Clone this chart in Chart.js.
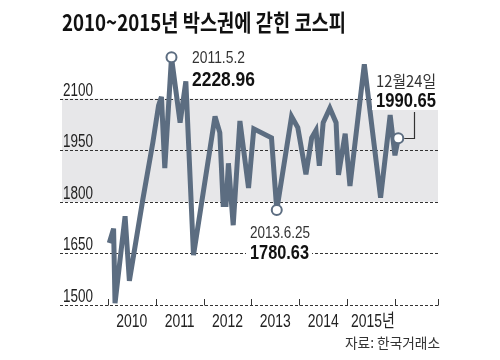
<!DOCTYPE html>
<html>
<head>
<meta charset="utf-8">
<script src="https://cdn.jsdelivr.net/npm/chart.js@4.4.1/dist/chart.umd.min.js"></script>
<style>
    html, body { margin: 0; padding: 0; background: #fff; }
    #wrap { width: 500px; height: 360px; }
</style>
</head>
<body>
<div id="wrap"><canvas id="kospiChart" width="500" height="360"></canvas></div>
<script>
// KOSPI (x = decimal year)
const dates = [2010.03, 2010.12, 2010.15, 2010.36, 2010.45, 2010.73, 2010.94, 2011.06, 2011.12, 2011.19,
    2011.33, 2011.51, 2011.63, 2011.79, 2012.24, 2012.34, 2012.41, 2012.47, 2012.52, 2012.62,
    2012.76, 2012.94, 2013.05, 2013.42, 2013.53, 2013.84, 2013.97, 2014.14, 2014.26, 2014.35,
    2014.42, 2014.50, 2014.64, 2014.77, 2014.82, 2014.96, 2015.06, 2015.36, 2015.70, 2015.90,
    2016.00, 2016.07];
const kospi = [1680, 1722, 1505, 1758, 1570, 1806, 1972, 2080, 2105, 1898,
    2220, 2030, 2150, 1645, 2048, 2001, 1792, 1792, 1912, 1732,
    2035, 1840, 2012, 1986, 1776, 2048, 2016, 1880, 1986, 2008,
    1905, 2030, 2072, 2030, 1878, 1998, 1846, 2200, 1812, 2052,
    1935, 1985];

const yTicks = [1500, 1650, 1800, 1950, 2100];
const boxRange = [1800, 2100];
const yearTicks = [2010, 2011, 2012, 2013, 2014, 2015, 2016];
const yearLabels = ["2010", "2011", "2012", "2013", "2014", "2015년"];

const markIndex = [10, 24, 41];
const markDates = ["2011.5.2", "2013.6.25", "12월24일"];
const markValues = ["2228.96", "1780.63", "1990.65"];

const title = "2010~2015년 박스권에 갇힌 코스피";
const source = "자료: 한국거래소";

const LINE = "#5c6d81";
const NUM_FONT = "'Liberation Sans', Arial, 'Noto Sans CJK KR', sans-serif";
const KR_FONT = "'Noto Sans CJK KR', 'Noto Sans', sans-serif";

// draw text squeezed to a given width (the original uses a condensed face)
function fitText(ctx, s, x, y, font, width, color) {
    ctx.save();
    ctx.font = font;
    ctx.fillStyle = color;
    ctx.textBaseline = "middle";
    ctx.textAlign = "left";
    const sx = width / ctx.measureText(s).width;
    ctx.translate(x, y);
    ctx.scale(sx, 1);
    ctx.fillText(s, 0, 0);
    ctx.restore();
}

function squeezeText(ctx, s, x, y, font, sx, color) {
    ctx.save();
    ctx.font = font;
    ctx.fillStyle = color;
    ctx.textBaseline = "middle";
    ctx.textAlign = "left";
    const w = ctx.measureText(s).width * sx;
    ctx.translate(x - w / 2, y);
    ctx.scale(sx, 1);
    ctx.fillText(s, 0, 0);
    ctx.restore();
}

function dashedLine(ctx, x1, x2, y) {
    ctx.save();
    ctx.strokeStyle = "#333";
    ctx.lineWidth = 1;
    ctx.setLineDash([3, 2]);
    ctx.beginPath();
    ctx.moveTo(x1, Math.round(y) + 0.5);
    ctx.lineTo(x2, Math.round(y) + 0.5);
    ctx.stroke();
    ctx.restore();
}

const backdrop = {
    id: "backdrop",
    beforeDatasetsDraw(chart) {
        const { ctx, chartArea: a, scales: { x, y } } = chart;

        // box range band
        ctx.fillStyle = "#e7e7e9";
        const yTop = y.getPixelForValue(boxRange[1]);
        const yBot = y.getPixelForValue(boxRange[0]);
        ctx.fillRect(a.left + 2, yTop, a.right - a.left - 2, yBot - yTop);

        yTicks.forEach(v => {
            const py = y.getPixelForValue(v);
            dashedLine(ctx, a.left, a.right, py);
            fitText(ctx, String(v), a.left + 3, py - 8, "18px " + NUM_FONT, 30, "#222");
        });

        // year ticks on the bottom axis
        ctx.save();
        ctx.strokeStyle = "#333";
        ctx.lineWidth = 1;
        const ticks = yearTicks.map(t => x.getPixelForValue(t)).concat([a.right - 0.5]);
        ticks.forEach(px => {
            ctx.beginPath();
            ctx.moveTo(Math.round(px) + 0.5, a.bottom + 0.5);
            ctx.lineTo(Math.round(px) + 0.5, a.bottom - 6);
            ctx.stroke();
        });
        ctx.restore();

        ctx.font = "18px " + NUM_FONT;
        const sx = 31 / ctx.measureText("2010").width;
        yearLabels.forEach((s, i) => {
            const px = x.getPixelForValue(yearTicks[i] + 0.5);
            squeezeText(ctx, s, px + (i === 5 ? 2 : 0), a.bottom + 17, "18px " + NUM_FONT, sx, "#222");
        });

        fitText(ctx, title, 62, 22, "bold 23px " + KR_FONT, 284, "#111");
        fitText(ctx, source, 345, 343, "14px " + KR_FONT, 95, "#333");

        // sharp spikes get cut like in the original artwork
        ctx.miterLimit = 4;
    },
    afterDatasetsDraw(chart) {
        const { ctx } = chart;
        const meta = chart.getDatasetMeta(0);

        // peak
        fitText(ctx, markDates[0], 192, 59, "16px " + NUM_FONT, 53, "#333");
        fitText(ctx, markValues[0], 192, 80, "bold 20px " + NUM_FONT, 63, "#111");

        // low: white box breaks the grid line
        ctx.fillStyle = "#fff";
        ctx.fillRect(246, 244, 66, 18);
        fitText(ctx, markDates[1], 250, 234, "16px " + NUM_FONT, 60, "#333");
        fitText(ctx, markValues[1], 250, 253, "bold 20px " + NUM_FONT, 59, "#111");

        // latest close with leader line
        const last = meta.data[markIndex[2]];
        ctx.fillStyle = "#fff";
        ctx.fillRect(372, 92, 70, 18);
        fitText(ctx, markDates[2], 376, 81, "16px " + KR_FONT, 60, "#333");
        fitText(ctx, markValues[2], 376, 101, "bold 20px " + NUM_FONT, 60, "#111");
        ctx.save();
        ctx.strokeStyle = "#333";
        ctx.lineWidth = 1.2;
        ctx.beginPath();
        ctx.moveTo(last.x + 6, Math.round(last.y) + 0.5);
        ctx.lineTo(414.5, Math.round(last.y) + 0.5);
        ctx.lineTo(414.5, 112);
        ctx.stroke();
        ctx.restore();
    }
};

new Chart(document.getElementById("kospiChart").getContext("2d"), {
    type: "line",
    data: {
        datasets: [{
            data: dates.map((d, i) => ({ x: d, y: kospi[i] })),
            borderColor: LINE,
            borderWidth: 5,
            borderJoinStyle: "miter",
            tension: 0,
            fill: false,
            pointRadius: c => markIndex.includes(c.dataIndex) ? 5 : 0,
            pointBackgroundColor: "#fff",
            pointBorderColor: LINE,
            pointBorderWidth: 2
        }]
    },
    options: {
        responsive: false,
        animation: false,
        devicePixelRatio: 1,
        layout: { padding: { left: 60, right: 62, top: 47, bottom: 55 } },
        plugins: { legend: { display: false }, tooltip: { enabled: false } },
        scales: {
            x: { type: "linear", min: 2009, max: 2016.9, display: false },
            y: { min: 1500, max: 2250, display: false }
        }
    },
    plugins: [backdrop]
});
</script>
</body>
</html>
